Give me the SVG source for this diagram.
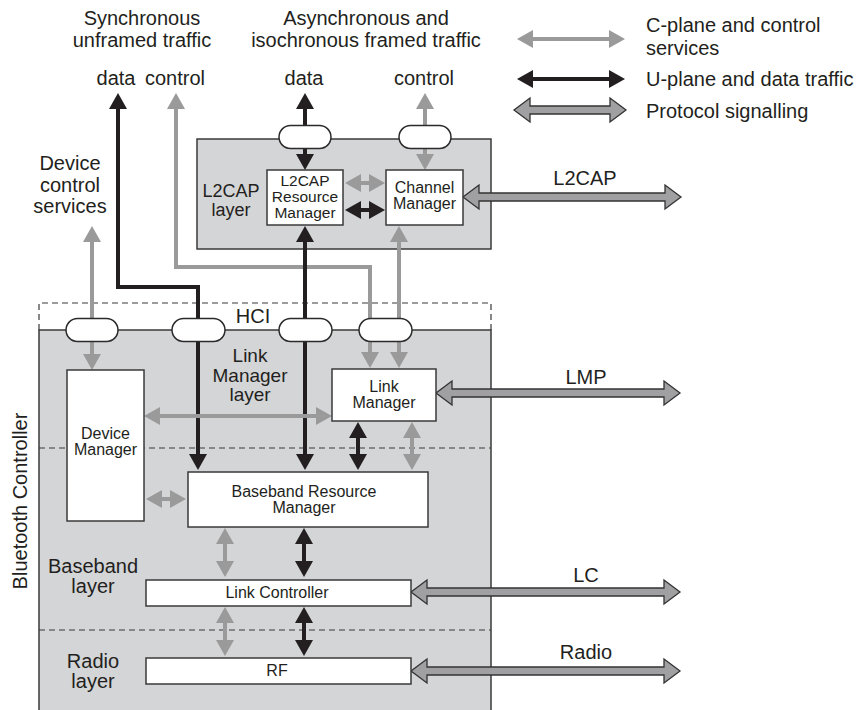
<svg xmlns="http://www.w3.org/2000/svg" width="858" height="710" viewBox="0 0 858 710">
<style>
text{font-family:"Liberation Sans",Arial,sans-serif;fill:#231f20;}
.t20{font-size:20px;}
.t19{font-size:19px;}
.t18{font-size:18px;}
.t16{font-size:16px;}
.t155{font-size:15.5px;}
.c{text-anchor:middle;}
.box{fill:#ffffff;stroke:#3a3a3a;stroke-width:1.5;}
.layer{fill:#d4d5d7;stroke:#3a3a3a;stroke-width:1.5;}
.oval{fill:#ffffff;stroke:#2a2a2a;stroke-width:1.5;}
.dash{fill:none;stroke:#3a3a3a;stroke-width:1.2;stroke-dasharray:6 4;}
.blk{fill:none;stroke:#231f20;stroke-width:4;}
.gry{fill:none;stroke:#9a9a9a;stroke-width:4;}
.bb{marker-start:url(#ab);marker-end:url(#ab);}
.gg{marker-start:url(#ag);marker-end:url(#ag);}
.be{marker-end:url(#ab);}
.ge{marker-end:url(#ag);}
.bs{marker-start:url(#ab);}
.gs{marker-start:url(#ag);}
.proto{fill:#a0a0a3;stroke:#333333;stroke-width:1.3;stroke-linejoin:miter;}
</style>
<defs>
<marker id="ab" markerUnits="userSpaceOnUse" markerWidth="16" markerHeight="18" viewBox="0 0 16 18" refX="12" refY="9" orient="auto-start-reverse"><path d="M0,0L16,9L0,18z" fill="#231f20"/></marker>
<marker id="ag" markerUnits="userSpaceOnUse" markerWidth="16" markerHeight="18" viewBox="0 0 16 18" refX="12" refY="9" orient="auto-start-reverse"><path d="M0,0L16,9L0,18z" fill="#9a9a9a"/></marker>
</defs>

<!-- Legend -->
<g id="legend">
<line class="gry gg" x1="521" y1="39" x2="621" y2="39"/>
<line class="blk bb" x1="521" y1="79" x2="621" y2="79"/>
<polygon class="proto" points="514,110 530,98 530,106 610,106 610,98 626,110 610,122 610,114 530,114 530,122"/>
<text class="t20" x="646" y="32">C-plane and control</text>
<text class="t20" x="646" y="55">services</text>
<text class="t20" x="646" y="86">U-plane and data traffic</text>
<text class="t20" x="646" y="118">Protocol signalling</text>
</g>

<!-- Top labels -->
<g id="top-labels">
<text class="t20 c" x="142" y="25">Synchronous</text>
<text class="t20 c" x="142" y="47">unframed traffic</text>
<text class="t20 c" x="366" y="25">Asynchronous and</text>
<text class="t20 c" x="366" y="47">isochronous framed traffic</text>
<text class="t20 c" x="116" y="85">data</text>
<text class="t20 c" x="175" y="85">control</text>
<text class="t20 c" x="304" y="85">data</text>
<text class="t20 c" x="424" y="85">control</text>
<text class="t20 c" x="70" y="170">Device</text>
<text class="t20 c" x="70" y="192">control</text>
<text class="t20 c" x="70" y="213">services</text>
</g>

<!-- Bluetooth controller body -->
<g id="controller">
<rect class="layer" x="39" y="330" width="452" height="390"/>
<path class="dash" d="M39,330 V303 H491 V330"/>
<line class="dash" x1="39" y1="448" x2="491" y2="448"/>
<line class="dash" x1="39" y1="630" x2="491" y2="630"/>
<text class="t20 c" x="253" y="323">HCI</text>
<text class="t19 c" x="250" y="362">Link</text>
<text class="t19 c" x="250" y="382">Manager</text>
<text class="t19 c" x="250" y="401">layer</text>
<text class="t20 c" x="93" y="573">Baseband</text>
<text class="t20 c" x="93" y="593">layer</text>
<text class="t20 c" x="93" y="668">Radio</text>
<text class="t20 c" x="93" y="688">layer</text>
<text class="t20 c" x="27" y="501" transform="rotate(-90 27 501)">Bluetooth Controller</text>
</g>

<!-- L2CAP layer -->
<g id="l2cap-layer">
<rect class="layer" x="197" y="139" width="294" height="110"/>
<text class="t18 c" x="231" y="197">L2CAP</text>
<text class="t18 c" x="231" y="216">layer</text>
</g>

<!-- Connectors -->
<g id="connectors">
<line class="blk bs" x1="305" y1="97" x2="305" y2="130"/>
<line class="blk be" x1="305" y1="145" x2="305" y2="166"/>
<line class="gry gs" x1="425" y1="97" x2="425" y2="130"/>
<line class="gry ge" x1="425" y1="145" x2="425" y2="166"/>
<line class="gry gg" x1="349" y1="183" x2="381" y2="183"/>
<line class="blk bb" x1="349" y1="210" x2="381" y2="210"/>
<path class="gry gs ge" d="M176,97 V267 H370 V364"/>
<path class="blk bs be" d="M118,97 V287 H198 V466"/>
<line class="blk bb" x1="305" y1="230" x2="305" y2="466"/>
<line class="gry gg" x1="399" y1="230" x2="399" y2="364"/>
<line class="gry gs" x1="92" y1="230" x2="92" y2="325"/>
<line class="gry ge" x1="92" y1="335" x2="92" y2="366"/>
<line class="gry gg" x1="148" y1="416" x2="328" y2="416"/>
<line class="blk bb" x1="358" y1="426" x2="358" y2="466"/>
<line class="gry gg" x1="412" y1="426" x2="412" y2="466"/>
<line class="gry gg" x1="150" y1="499" x2="182" y2="499"/>
<line class="gry gg" x1="225" y1="532" x2="225" y2="573"/>
<line class="blk bb" x1="304" y1="532" x2="304" y2="573"/>
<line class="gry gg" x1="225" y1="611" x2="225" y2="652"/>
<line class="blk bb" x1="304" y1="611" x2="304" y2="652"/>
<polygon class="proto" points="463,197 479,185 479,193 665,193 665,185 681,197 665,209 665,201 479,201 479,209"/>
<polygon class="proto" points="436,393 452,381 452,389 664,389 664,381 680,393 664,405 664,397 452,397 452,405"/>
<polygon class="proto" points="411,592 427,580 427,588 664,588 664,580 680,592 664,604 664,596 427,596 427,604"/>
<polygon class="proto" points="411,671 427,659 427,667 664,667 664,659 680,671 664,683 664,675 427,675 427,683"/>
<text class="t20 c" x="585" y="185">L2CAP</text>
<text class="t20 c" x="586" y="384">LMP</text>
<text class="t20 c" x="586" y="582">LC</text>
<text class="t20 c" x="586" y="659">Radio</text>
</g>

<!-- Ovals (service access points) -->
<g id="sap-l2cap-data"><rect class="oval" x="279" y="125.5" width="52" height="23" rx="11.5"/></g>
<g id="sap-l2cap-control"><rect class="oval" x="399" y="125.5" width="52" height="23" rx="11.5"/></g>
<g id="sap-hci-1"><rect class="oval" x="66" y="318.5" width="52" height="23" rx="11.5"/></g>
<g id="sap-hci-2"><rect class="oval" x="172" y="318.5" width="53" height="23" rx="11.5"/></g>
<g id="sap-hci-3"><rect class="oval" x="279" y="318.5" width="53" height="23" rx="11.5"/></g>
<g id="sap-hci-4"><rect class="oval" x="359" y="318.5" width="53" height="23" rx="11.5"/></g>

<!-- Nodes -->
<g id="l2cap-resource-manager">
<rect class="box" x="267" y="170" width="76" height="55"/>
<text class="t155 c" x="305" y="186">L2CAP</text>
<text class="t155 c" x="305" y="202">Resource</text>
<text class="t155 c" x="305" y="218">Manager</text>
</g>
<g id="channel-manager">
<rect class="box" x="386" y="170" width="77" height="55"/>
<text class="t16 c" x="424.5" y="193">Channel</text>
<text class="t16 c" x="424.5" y="209">Manager</text>
</g>
<g id="device-manager">
<rect class="box" x="67" y="370" width="77" height="151"/>
<text class="t16 c" x="105.5" y="439">Device</text>
<text class="t16 c" x="105.5" y="455">Manager</text>
</g>
<g id="link-manager">
<rect class="box" x="332" y="369" width="104" height="52"/>
<text class="t16 c" x="384" y="392">Link</text>
<text class="t16 c" x="384" y="408">Manager</text>
</g>
<g id="baseband-resource-manager">
<rect class="box" x="188" y="472" width="240" height="55"/>
<text class="t16 c" x="304" y="497">Baseband Resource</text>
<text class="t16 c" x="304" y="513">Manager</text>
</g>
<g id="link-controller">
<rect class="box" x="146" y="580" width="265" height="26"/>
<text class="t16 c" x="277" y="598">Link Controller</text>
</g>
<g id="rf">
<rect class="box" x="146" y="658" width="265" height="26"/>
<text class="t16 c" x="277" y="676">RF</text>
</g>
</svg>
